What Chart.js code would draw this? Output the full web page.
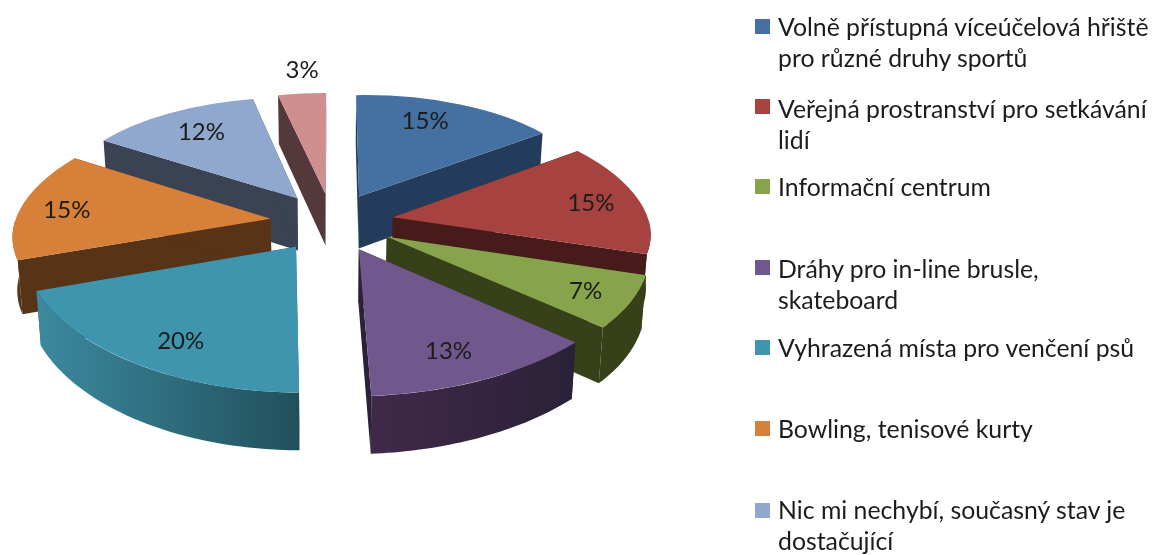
<!DOCTYPE html>
<html lang="cs"><head><meta charset="utf-8">
<script src="https://cdn.jsdelivr.net/npm/chart.js@4"></script>
<style>
html,body{margin:0;padding:0;background:#fff;overflow:hidden}
#wrap{position:relative;width:1153px;height:555px}
canvas{position:absolute;left:0;top:0}
.sw{position:absolute;left:755px;width:15px;height:15px}
.tx{position:absolute;left:778px;width:375px;font:24.8px/31px Lato,sans-serif;color:#1c1c1c;white-space:nowrap}
</style></head><body>
<div id="wrap"><canvas id="c" width="1153" height="555"></canvas></div>
<script>
const categories=["Volně přístupná víceúčelová hřiště pro různé druhy sportů","Veřejná prostranství pro setkávání lidí","Informační centrum","Dráhy pro in-line brusle, skateboard","Vyhrazená místa pro venčení psů","Bowling, tenisové kurty","Nic mi nechybí, současný stav je dostačující","Jiné"];
const legendLines=[["Volně přístupná víceúčelová hřiště","pro různé druhy sportů"],["Veřejná prostranství pro setkávání","lidí"],["Informační centrum"],["Dráhy pro in-line brusle,","skateboard"],["Vyhrazená místa pro venčení psů"],["Bowling, tenisové kurty"],["Nic mi nechybí, současný stav je","dostačující"]];
const values=[14.8,15,6.8,12.9,20,14.5,12.4,3.49];
const topColors=["#4570A2","#A64240","#87A34C","#71588C","#3F95AD","#D7803A","#90A8CE","#CF8F8F"];
const cutColors=["#243C5C","#461B19","#364019","#2B2138","#225360","#573417","#3A4254","#55393A"];
const rimLeft=["#243C5C","#461B19","#364019","#40294A","#3C8A9F","#C9772F","#3A4254","#55393A"];
const rimRight=["#243C5C","#461B19","#364019","#2A2138","#21505C","#573417","#3A4254","#55393A"];
const labelRadial=[.8,.81,.82,.77,.77,.82,.78,1.29];
const labelAngular=[.414,.5,.47,.54,.445,.5,.536,.6];
const EXPLODE=62,TILT=.472,PERSPECTIVE=2000,CONVERGE=.015,LABEL_DROP=2.5;
const depthAt=y=>52+(y-200)*.03;
const legendTops=[11,93,171,253,332,413,494];
const swatchTops=[19,99,179,260,340,421,503];

const pie3d={id:"pie3d",beforeDatasetsDraw(chart){
  const ctx=chart.ctx,arcs=chart.getDatasetMeta(0).data;
  const prep=arcs.map((el,i)=>{
    const {x,y,startAngle:a0,endAngle:a1,outerRadius:R}=el;
    const mid=(a0+a1)/2,ox=EXPLODE*Math.cos(mid),oy=EXPLODE*Math.sin(mid);
    const proj=(X,Y)=>{const s=1/(1-Y/PERSPECTIVE);return [x+X*s,y+Y*TILT*s];};
    const P0=proj(ox,oy);
    const P1=proj(ox+R*Math.cos(a0),oy+R*Math.sin(a0));
    const P2=proj(ox+R*Math.cos(a1),oy+R*Math.sin(a1));
    const v1=[R*Math.cos(a0),R*Math.sin(a0)],v2=[R*Math.cos(a1),R*Math.sin(a1)];
    const w1=[P1[0]-P0[0],P1[1]-P0[1]],w2=[P2[0]-P0[0],P2[1]-P0[1]];
    const det=v1[0]*v2[1]-v2[0]*v1[1];
    const a=(w1[0]*v2[1]-w2[0]*v1[1])/det,c=(w2[0]*v1[0]-w1[0]*v2[0])/det;
    const b=(w1[1]*v2[1]-w2[1]*v1[1])/det,d=(w2[1]*v1[0]-w1[1]*v2[0])/det;
    const map=(u,v)=>[P0[0]+a*u+c*v,P0[1]+b*u+d*v];
    return {el,i,x,y,a0,a1,R,mid,ox,oy,proj,P0,P1,P2,a,b,c,d,map};
  });
  const drop=(p,cx)=>[p[0]+(cx-p[0])*CONVERGE,p[1]+depthAt(p[1])];
  const poly=(pts,fill)=>{ctx.beginPath();pts.forEach((p,k)=>k?ctx.lineTo(p[0],p[1]):ctx.moveTo(p[0],p[1]));ctx.closePath();ctx.fillStyle=fill;ctx.fill();};
  [...prep].sort((p,q)=>Math.sin(p.mid)-Math.sin(q.mid)).forEach(s=>{
    const {el,i}=s;
    poly([s.P0,s.P1,drop(s.P1,s.x),drop(s.P0,s.x)],cutColors[i]);
    poly([s.P0,s.P2,drop(s.P2,s.x),drop(s.P0,s.x)],cutColors[i]);
    const TAU=Math.PI*2;
    for(const k of [0,1]){
      const lo=Math.max(s.a0,k*TAU),hi=Math.min(s.a1,Math.PI+k*TAU);
      if(hi<=lo) continue;
      const top=[];
      for(let n=0;n<=40;n++){const t=lo+(hi-lo)*n/40;top.push(s.map(s.R*Math.cos(t),s.R*Math.sin(t)));}
      const xs=top.map(p=>p[0]);
      const g=ctx.createLinearGradient(Math.min(...xs),0,Math.max(...xs),0);
      g.addColorStop(0,rimLeft[i]);g.addColorStop(1,rimRight[i]);
      poly(top.concat(top.map(p=>drop(p,s.x)).reverse()),g);
    }
    ctx.save();
    ctx.transform(s.a,s.b,s.c,s.d,s.P0[0]-s.a*s.x-s.c*s.y,s.P0[1]-s.b*s.x-s.d*s.y);
    el.draw(ctx);
    ctx.restore();
  });
  ctx.font="24px Lato, sans-serif";ctx.fillStyle="#1c1c1c";ctx.textAlign="center";ctx.textBaseline="middle";
  prep.forEach(s=>{
    const t=s.a0+(s.a1-s.a0)*labelAngular[s.i],r=s.R*labelRadial[s.i];
    const p=s.proj(s.ox+r*Math.cos(t),s.oy+r*Math.sin(t));
    ctx.fillText(Math.round(values[s.i])+"%",p[0],p[1]+LABEL_DROP);
  });
  return false;
}};

new Chart(document.getElementById("c"),{type:"pie",
  data:{labels:categories,datasets:[{data:values,backgroundColor:topColors,borderWidth:0}]},
  options:{responsive:false,animation:false,radius:255,layout:{padding:{right:489,bottom:111}},
    plugins:{legend:{display:false},tooltip:{enabled:false}}},
  plugins:[pie3d]});

const wrap=document.getElementById("wrap");
legendLines.forEach((lines,i)=>{
  const sw=document.createElement("div");sw.className="sw";sw.style.top=swatchTops[i]+"px";sw.style.background=topColors[i];wrap.appendChild(sw);
  const tx=document.createElement("div");tx.className="tx";tx.style.top=legendTops[i]+"px";tx.innerHTML=lines.join("<br>");wrap.appendChild(tx);
});
</script></body></html>
